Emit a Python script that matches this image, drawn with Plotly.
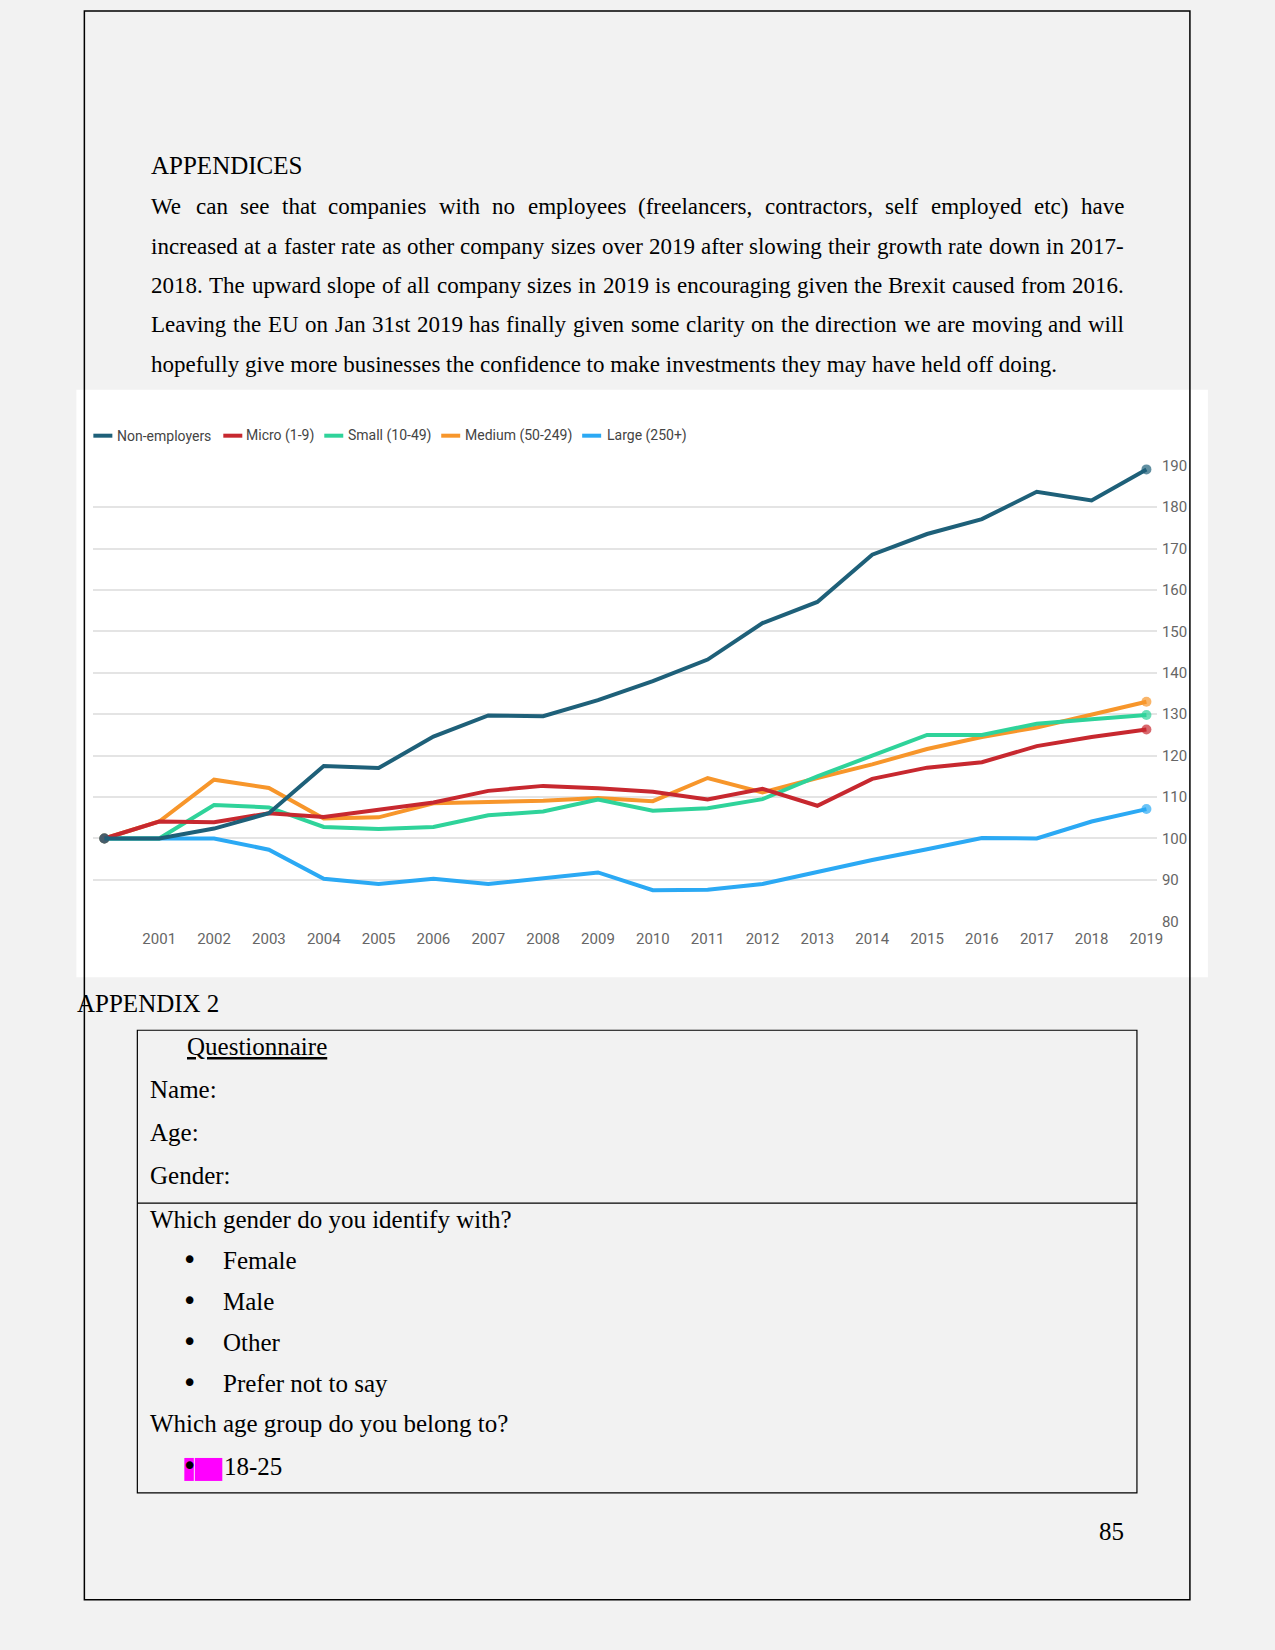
import plotly.graph_objects as go

# ---------------- data ----------------
years = list(range(2000, 2020))
non_employers = [100, 100, 102.4, 106.1, 117.5, 117.0, 124.6, 129.7, 129.5, 133.4,
                 138.0, 143.2, 152.0, 157.1, 168.5, 173.5, 177.1, 183.7, 181.6, 189.1]
micro = [100, 104.1, 103.9, 106.1, 105.2, 106.9, 108.7, 111.5, 112.7, 112.1,
         111.3, 109.4, 112.0, 107.9, 114.4, 117.1, 118.4, 122.3, 124.5, 126.3]
small = [100, 100, 108.1, 107.5, 102.8, 102.3, 102.8, 105.6, 106.5, 109.4,
         106.7, 107.3, 109.5, 115.0, 120.0, 125.0, 125.0, 127.7, 128.8, 129.8]
medium = [100, 104.1, 114.2, 112.2, 104.8, 105.1, 108.5, 108.7, 109.1, 109.8,
          109.0, 114.6, 111.1, 114.6, 117.9, 121.6, 124.5, 126.8, 129.8, 133.0]
large = [100, 100, 100, 97.3, 90.3, 89.0, 90.3, 89.0, 90.3, 91.8,
         87.5, 87.6, 89.0, 91.9, 94.8, 97.4, 100.1, 100.0, 104.1, 107.1]

series_names = ["Non-employers", "Micro (1-9)", "Small (10-49)", "Medium (50-249)", "Large (250+)"]
series_values = [non_employers, micro, small, medium, large]
x_tick_years = years[1:]
y_ticks = list(range(80, 200, 10))

colors = ["#1e6079", "#c7282f", "#2fd39a", "#f7962b", "#2ba9f4"]

heading = "APPENDICES"
para_lines = [
    "We can see that companies with no employees (freelancers, contractors, self employed etc) have",
    "increased at a faster rate as other company sizes over 2019 after slowing their growth rate down in 2017-",
    "2018. The upward slope of all company sizes in 2019 is encouraging given the Brexit caused from 2016.",
    "Leaving the EU on Jan 31st 2019 has finally given some clarity on the direction we are moving and will",
    "hopefully give more businesses the confidence to make investments they may have held off doing.",
]
appendix2 = "APPENDIX 2"
questionnaire_title = "Questionnaire"
form_fields = ["Name:", "Age:", "Gender:"]
q1 = "Which gender do you identify with?"
q1_options = ["Female", "Male", "Other", "Prefer not to say"]
q2 = "Which age group do you belong to?"
q2_options = ["18-25"]
page_number = "85"

# ---------------- helpers ----------------
W, H = 1275, 1650
# small correction so that the photographed page lands where the original page is
SX, OX = 0.9957, -0.4
SY, OY = 0.9898, 8.0


def px(x):
    return ((x - OX) / SX) / W


def py(y):
    return 1 - ((y - OY) / SY) / H


# Times / Liberation Serif advance widths (per 1000 em)
TW = {' ': 250, ',': 250, '.': 250, '-': 333, '(': 333, ')': 333, '?': 444, ':': 278}
for c in '0123456789':
    TW[c] = 500
TW.update(dict(zip('abcdefghijklmnopqrstuvwxyz',
                   [444, 500, 444, 500, 444, 333, 500, 500, 278, 278, 500, 278, 778,
                    500, 500, 500, 500, 333, 389, 278, 500, 500, 722, 500, 500, 444])))
TW.update(dict(zip('ABCDEFGHIJKLMNOPQRSTUVWXYZ',
                   [722, 667, 667, 722, 611, 556, 722, 722, 333, 389, 722, 611, 889,
                    722, 722, 556, 722, 667, 556, 611, 722, 722, 944, 722, 722, 611])))


def text_width(s, size):
    return sum(TW.get(c, 500) for c in s) * size / 1000.0 / SX


SERIF = "Liberation Serif"
FS = 25
BODY_FS = 23
annotations = []


def add_text(x, y, text, size=FS, anchor="left", color="black", family=SERIF):
    annotations.append(dict(x=px(x), y=py(y), xref="paper", yref="paper", text=text,
                            showarrow=False, xanchor=anchor, yanchor="middle",
                            borderpad=0, font=dict(family=family, size=size, color=color)))


# ---------------- figure ----------------
fig = go.Figure()

# draw order: large at bottom, non-employers on top
for name, vals, col in reversed(list(zip(series_names, series_values, colors))):
    sizes = [10] + [0] * (len(vals) - 2) + [10]
    fig.add_trace(go.Scatter(x=years, y=vals, mode="lines+markers", name=name,
                             line=dict(color=col, width=4),
                             marker=dict(size=sizes, color=col, line=dict(width=0)),
                             showlegend=False, cliponaxis=False))

plot_left, plot_right = 93, 1157
plot_top, plot_bottom = 465, 921
x2000, x2019 = 104, 1146.5
per_year = (x2019 - x2000) / 19
x_range = [2000 - (x2000 - plot_left) / per_year, 2019 + (plot_right - x2019) / per_year]

tickfont = dict(family="Roboto", size=15, color="#666666")
fig.update_layout(
    width=W, height=H, autosize=False,
    margin=dict(l=0, r=0, t=0, b=0, pad=0),
    paper_bgcolor="#f2f2f2", plot_bgcolor="rgba(0,0,0,0)",
    xaxis=dict(domain=[px(plot_left), px(plot_right)], range=x_range,
               tickmode="array", tickvals=x_tick_years, ticktext=[str(v) for v in x_tick_years],
               showgrid=False, zeroline=False, showline=False, ticks="",
               tickfont=tickfont, ticklabelstandoff=7),
    yaxis=dict(domain=[py(plot_bottom), py(plot_top)], range=[80, 190], side="right",
               tickmode="array", tickvals=y_ticks, ticktext=[str(v) for v in y_ticks],
               showgrid=True, gridcolor="#e4e4e4", gridwidth=1.5,
               zeroline=False, showline=False, ticks="",
               tickfont=tickfont, ticklabelstandoff=4),
)

shapes = []
# white chart background
shapes.append(dict(type="rect", xref="paper", yref="paper", x0=px(76), x1=px(1208),
                   y0=py(977), y1=py(389), fillcolor="white", line=dict(width=0), layer="below"))

# legend (manual, matching original layout)
legend_line_x = [93, 223, 324, 441, 582]
legend_text_x = [116, 245, 347, 464, 606]
legend_y = 435
for name, col, lx, tx in zip(series_names, colors, legend_line_x, legend_text_x):
    shapes.append(dict(type="line", xref="paper", yref="paper", x0=px(lx), x1=px(lx + 19),
                       y0=py(legend_y), y1=py(legend_y), line=dict(color=col, width=4)))
    add_text(tx, legend_y, name, size=14, color="#444444", family="Roboto")

# page border
shapes.append(dict(type="rect", xref="paper", yref="paper", x0=px(84), x1=px(1190),
                   y0=py(1600), y1=py(10), line=dict(color="black", width=1.5), layer="above"))

# questionnaire table
shapes.append(dict(type="rect", xref="paper", yref="paper", x0=px(137), x1=px(1137),
                   y0=py(1493), y1=py(1030), line=dict(color="black", width=1.2), layer="above"))
shapes.append(dict(type="line", xref="paper", yref="paper", x0=px(137), x1=px(1137),
                   y0=py(1203), y1=py(1203), line=dict(color="black", width=1.2), layer="above"))

# magenta highlight behind the last bullet
shapes.append(dict(type="rect", xref="paper", yref="paper", x0=px(184), x1=px(193.5),
                   y0=py(1481), y1=py(1458), fillcolor="#ff00ff", line=dict(width=0), layer="below"))
shapes.append(dict(type="rect", xref="paper", yref="paper", x0=px(194.5), x1=px(222),
                   y0=py(1481), y1=py(1458), fillcolor="#ff00ff", line=dict(width=0), layer="below"))

# ---------------- document text ----------------
left_margin, right_margin = 150, 1123
add_text(left_margin, 165, heading)
line_y = [206, 246, 285, 324, 364]
for i, (line, ly) in enumerate(zip(para_lines, line_y)):
    if i == len(para_lines) - 1:
        add_text(left_margin, ly, line, size=BODY_FS)
        continue
    words = line.split(" ")
    widths = [text_width(w, BODY_FS) for w in words]
    span = (right_margin - left_margin) / SX
    gap = (span - sum(widths)) / (len(words) - 1)
    xs = (left_margin - OX) / SX
    for w, ww in zip(words, widths):
        add_text(xs * SX + OX, ly, w, size=BODY_FS)
        xs += ww + gap

add_text(76, 1003, appendix2)
add_text(186, 1046, "<u>" + questionnaire_title + "</u>")
for fld, fy in zip(form_fields, [1089, 1132, 1175]):
    add_text(149, fy, fld)
add_text(149, 1219, q1)
for opt, oy in zip(q1_options, [1260, 1301, 1342, 1383]):
    add_text(189, oy, "•", size=26, anchor="center", family="DejaVu Sans")
    add_text(222, oy, opt)
add_text(149, 1424, q2)
for opt, oy in zip(q2_options, [1466.5]):
    add_text(189, oy, "•", size=26, anchor="center", family="DejaVu Sans")
    add_text(223, oy, opt)
add_text(1125, 1532, page_number, anchor="right")

fig.update_layout(shapes=shapes, annotations=annotations)
fig.write_html(
    "out.html",
    config={"displayModeBar": False},
    post_script="document.body.style.margin='0';document.body.style.overflow='hidden';"
                "document.documentElement.style.overflow='hidden';",
)
